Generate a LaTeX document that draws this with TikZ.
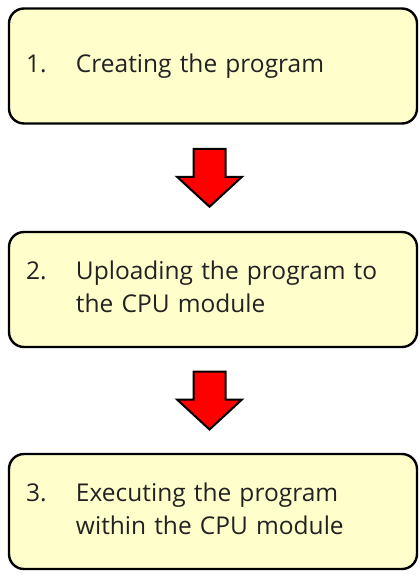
\documentclass[tikz,border=0pt]{standalone}
\usepackage{fontspec}
\setmainfont{Open Sans}
\usepackage{tikz}
\usetikzlibrary{shapes,arrows,positioning,calc}
\definecolor{boxyellow}{HTML}{FFFFCC}
\definecolor{arrowred}{HTML}{FF0000}
\definecolor{textgray}{HTML}{222222}
\newcommand{\stepitem}[2]{%
  \begin{tabular}{@{}p{50pt}@{}l@{}}#1 & \begin{tabular}[t]{@{}l@{}}#2\end{tabular}\end{tabular}}

\begin{document}
\begin{tikzpicture}[x=1pt,y=1pt,
  stepbox/.style={draw=black,line width=2.4pt,rounded corners=15pt,fill=boxyellow,
    minimum width=408pt,minimum height=115pt,inner xsep=17pt,text width=374pt,
    align=left,text=textgray,font=\fontsize{24.5}{33}\selectfont},
  downarrow/.style={draw=black,line width=2pt,fill=arrowred,line join=miter}]
  \useasboundingbox (0,0) rectangle (420,-576);

  % Steps
  \node[stepbox] (create) at (213,-66) {\stepitem{1.}{Creating the program}};
  \node[stepbox] (upload) at (213,-289.5) {\stepitem{2.}{Uploading the program to\\the CPU module}};
  \node[stepbox] (execute) at (213,-511.5) {\stepitem{3.}{Executing the program\\within the CPU module}};

  % Arrows between the steps
  \foreach \from/\to/\name in {create/upload/arrA, upload/execute/arrB} {
    \coordinate (\name) at ($(\from.south)!0.5!(\to.north)+(-3.5,0)$);
    \draw[downarrow] ($(\name)+(-16,29)$) -- ($(\name)+(16,29)$) -- ($(\name)+(16,1)$)
      -- ($(\name)+(32.5,1)$) -- ($(\name)+(0,-29)$) -- ($(\name)+(-32.5,1)$)
      -- ($(\name)+(-16,1)$) -- cycle;
  }
\end{tikzpicture}
\end{document}
